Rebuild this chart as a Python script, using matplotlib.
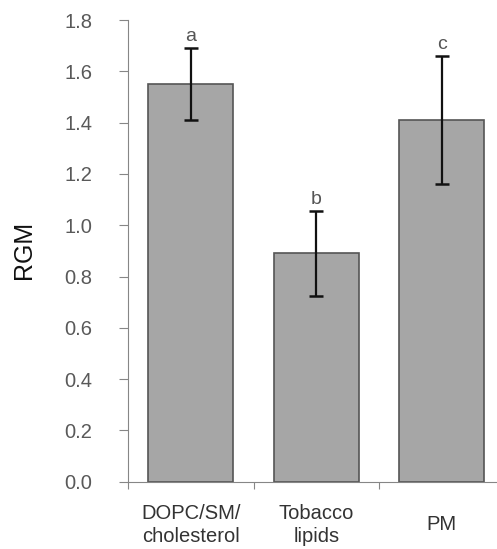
import matplotlib
matplotlib.use("Agg")
import matplotlib.pyplot as plt

# data
groups = ["DOPC/SM/\ncholesterol", "Tobacco\nlipids", "PM"]
rgm = [1.55, 0.89, 1.41]
rgm_err = [0.14, 0.165, 0.25]
letters = ["a", "b", "c"]
y_ticks = [0.0, 0.2, 0.4, 0.6, 0.8, 1.0, 1.2, 1.4, 1.6, 1.8]

plt.rcParams["font.family"] = ["Liberation Sans", "DejaVu Sans"]

fig = plt.figure(figsize=(4.97, 5.49), dpi=100)
ax = fig.add_axes([128 / 497, 67.3 / 549, 376.5 / 497, 461.7 / 549])

pos = list(range(len(groups)))

ax.bar(
    pos,
    rgm,
    width=0.68,
    color="#a6a6a6",
    edgecolor="#555555",
    linewidth=1.2,
    zorder=2
)

ax.errorbar(
    pos,
    rgm,
    yerr=rgm_err,
    fmt="none",
    ecolor="#111111",
    elinewidth=1.6,
    capsize=4.7,
    capthick=1.8,
    zorder=3
)

for p, m, e, s in zip(pos, rgm, rgm_err, letters):
    ax.annotate(
        s,
        xy=(p, m + e),
        xytext=(0, 2),
        textcoords="offset points",
        ha="center",
        va="bottom",
        fontsize=14,
        color="#555555"
    )

ax.set_xlim(-0.5, 2.5)
ax.set_ylim(0, 1.8)

ax.set_yticks(y_ticks)
ax.set_yticklabels([f"{v:.1f}" for v in y_ticks])

# category borders as major ticks, names on minor ticks
ax.set_xticks([-0.5, 0.5, 1.5, 2.5])
ax.set_xticklabels([])
ax.set_xticks(pos, minor=True)
ax.set_xticklabels(groups, minor=True)

ax.tick_params(axis="y", direction="out", length=6.5, width=0.8,
               color="#868686", labelsize=14.5, labelcolor="#595959", pad=19)
ax.tick_params(axis="x", which="major", direction="out", length=5,
               width=0.8, color="#868686")
ax.tick_params(axis="x", which="minor", length=0, labelsize=14.5,
               labelcolor="#333333", pad=31)

for lbl in ax.get_xticklabels(minor=True):
    lbl.set_va("center")
    lbl.set_linespacing(1.3)

for side in ["top", "right"]:
    ax.spines[side].set_visible(False)
for side in ["left", "bottom"]:
    ax.spines[side].set_color("#868686")
    ax.spines[side].set_linewidth(0.8)

fig.text(24 / 497, 1 - 250 / 549, "RGM", rotation=90,
         ha="center", va="center", fontsize=18, color="#111111")

fig.savefig("out.png", dpi=100)
